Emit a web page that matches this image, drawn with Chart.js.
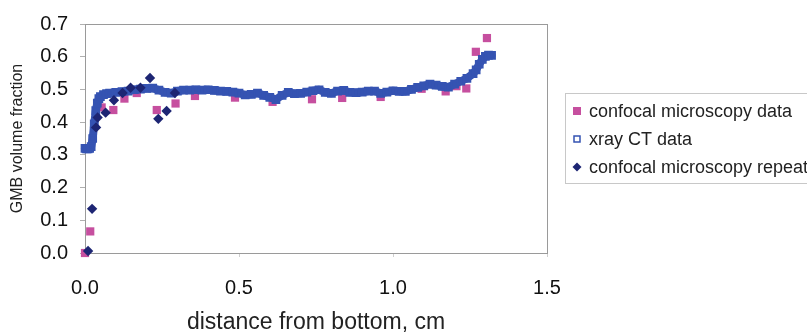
<!DOCTYPE html>
<html>
<head>
<meta charset="utf-8">
<script src="https://cdn.jsdelivr.net/npm/chart.js@4.4.0/dist/chart.umd.min.js"></script>
<style>
  body { margin: 0; background: #fff; }
  #wrap { width: 807px; height: 336px; position: relative; }
</style>
</head>
<body>
<div id="wrap"><canvas id="myChart"></canvas></div>
<script>
// values
const confX = [0, 0.017, 0.054, 0.092, 0.128, 0.168, 0.233, 0.294, 0.357, 0.487, 0.609, 0.737, 0.835, 0.96, 1.093, 1.171, 1.206, 1.238, 1.269, 1.305]
const confY = [0.0, 0.066, 0.445, 0.437, 0.472, 0.489, 0.437, 0.457, 0.48, 0.475, 0.462, 0.47, 0.474, 0.477, 0.502, 0.494, 0.51, 0.503, 0.615, 0.657]

const xrayX = [0, 0.005, 0.01, 0.015, 0.02, 0.025, 0.03, 0.035, 0.04, 0.045, 0.05, 0.06, 0.07, 0.08, 0.1, 0.12, 0.14, 0.16, 0.18, 0.2,
  0.22, 0.24, 0.26, 0.28, 0.3, 0.32, 0.34, 0.36, 0.38, 0.4, 0.42, 0.44, 0.46, 0.48, 0.5, 0.52, 0.54, 0.56, 0.58, 0.6,
  0.62, 0.64, 0.66, 0.68, 0.7, 0.72, 0.74, 0.76, 0.78, 0.8, 0.82, 0.84, 0.86, 0.88, 0.9, 0.92, 0.94, 0.96, 0.98, 1.0,
  1.02, 1.04, 1.06, 1.08, 1.1, 1.12, 1.14, 1.16, 1.18, 1.2, 1.22, 1.24, 1.26, 1.27, 1.28, 1.29, 1.3, 1.31, 1.32]
const xrayY = [0.32, 0.318, 0.318, 0.32, 0.325, 0.35, 0.395, 0.435, 0.458, 0.472, 0.478, 0.484, 0.487, 0.489, 0.491, 0.493, 0.495, 0.499, 0.501, 0.503,
  0.504, 0.498, 0.491, 0.489, 0.495, 0.498, 0.498, 0.499, 0.498, 0.499, 0.497, 0.495, 0.494, 0.492, 0.489, 0.483, 0.485, 0.489, 0.482, 0.476,
  0.469, 0.482, 0.491, 0.487, 0.488, 0.492, 0.496, 0.499, 0.491, 0.488, 0.495, 0.497, 0.491, 0.49, 0.492, 0.495, 0.495, 0.488, 0.492, 0.496,
  0.494, 0.494, 0.5, 0.506, 0.511, 0.516, 0.513, 0.509, 0.507, 0.516, 0.525, 0.534, 0.548, 0.56, 0.577, 0.592, 0.601, 0.605, 0.604]

const repX = [0.01, 0.023, 0.036, 0.041, 0.067, 0.094, 0.122, 0.148, 0.18, 0.211, 0.238, 0.265, 0.292]
const repY = [0.006, 0.135, 0.384, 0.414, 0.429, 0.467, 0.489, 0.505, 0.505, 0.535, 0.41, 0.434, 0.489]

const xTicks = [0, 0.5, 1.0, 1.5]
const yTicks = [0, 0.1, 0.2, 0.3, 0.4, 0.5, 0.6, 0.7]

const seriesNames = ['confocal microscopy data', 'xray CT data', 'confocal microscopy repeat']

const pink = '#c64f9f'
const blue = '#3553b2'
const navy = '#1d2573'
const fontFam = '"Liberation Sans", Arial, sans-serif'

const toPts = (xs, ys) => xs.map((x, i) => ({ x: x, y: ys[i] }))

// frame round the plot and the boxed legend on the right
const framePlugin = {
  id: 'frame',
  beforeDatasetsDraw(chart) {
    const { ctx, chartArea: a } = chart
    ctx.save()
    ctx.strokeStyle = '#9a9a9a'
    ctx.lineWidth = 1
    ctx.strokeRect(Math.round(a.left) + 0.5, Math.round(a.top) + 0.5, Math.round(a.right - a.left), Math.round(a.bottom - a.top))
    ctx.restore()
  },
  afterDraw(chart) {
    const ctx = chart.ctx
    ctx.save()
    ctx.strokeStyle = '#c8c8c8'
    ctx.lineWidth = 1
    ctx.strokeRect(565.5, 93.5, 300, 90)
    const rows = [111, 139, 167]
    ctx.font = '18px ' + fontFam
    ctx.textBaseline = 'middle'
    seriesNames.forEach((name, i) => {
      const y = rows[i]
      if (i === 0) {
        ctx.fillStyle = pink
        ctx.fillRect(573, y - 4, 8, 8)
      } else if (i === 1) {
        ctx.strokeStyle = blue
        ctx.lineWidth = 1.5
        ctx.strokeRect(574, y - 3, 6, 6)
      } else {
        ctx.fillStyle = navy
        ctx.beginPath()
        ctx.moveTo(577, y - 4.5)
        ctx.lineTo(581.5, y)
        ctx.lineTo(577, y + 4.5)
        ctx.lineTo(572.5, y)
        ctx.closePath()
        ctx.fill()
      }
      ctx.fillStyle = '#222'
      ctx.fillText(name, 589, y + 1)
    })
    ctx.restore()
  }
}

const grafica = document.getElementById('myChart').getContext('2d')

const myChart = new Chart(grafica, {
  type: 'scatter',
  data: {
    datasets: [{
      label: seriesNames[0],
      data: toPts(confX, confY),
      pointStyle: 'rect',
      pointRadius: 5.8,
      pointBackgroundColor: pink,
      pointBorderColor: pink,
      pointBorderWidth: 0,
      order: 3,
      clip: false
    }, {
      label: seriesNames[1],
      data: toPts(xrayX, xrayY),
      showLine: true,
      borderColor: blue,
      borderWidth: 8,
      borderJoinStyle: 'round',
      borderCapStyle: 'round',
      pointStyle: 'rect',
      pointRadius: 4.4,
      pointBackgroundColor: 'rgba(0,0,0,0)',
      pointBorderColor: blue,
      pointBorderWidth: 2.5,
      order: 2,
      clip: false
    }, {
      label: seriesNames[2],
      data: toPts(repX, repY),
      pointStyle: 'rectRot',
      pointRadius: 5.2,
      pointBackgroundColor: navy,
      pointBorderColor: navy,
      pointBorderWidth: 0,
      order: 1,
      clip: false
    }]
  },
  options: {
    responsive: true,
    maintainAspectRatio: false,
    animation: false,
    layout: { padding: { top: 21, right: 260, bottom: 0, left: 0 } },
    plugins: {
      legend: { display: false },
      tooltip: { enabled: false }
    },
    scales: {
      x: {
        type: 'linear',
        min: 0,
        max: 1.5,
        afterBuildTicks: (s) => { s.ticks = xTicks.map(v => ({ value: v })) },
        afterFit: (s) => { s.height = 83 },
        grid: { display: true, drawOnChartArea: false, drawTicks: true, tickLength: 4, color: '#cfcfcf' },
        border: { display: false },
        ticks: {
          padding: 19,
          color: '#111',
          font: { family: fontFam, size: 20 },
          callback: (v) => Number(v).toFixed(1)
        },
        title: {
          display: true,
          text: 'distance from bottom, cm',
          color: '#222',
          font: { family: fontFam, size: 23 },
          padding: { top: 0, bottom: 0 }
        }
      },
      y: {
        type: 'linear',
        min: 0,
        max: 0.7,
        afterBuildTicks: (s) => { s.ticks = yTicks.map(v => ({ value: v })) },
        afterFit: (s) => { s.width = 85 },
        grid: { display: true, drawOnChartArea: false, drawTicks: true, tickLength: 5, color: '#b0b0b0' },
        border: { display: false },
        ticks: {
          padding: 12,
          color: '#111',
          font: { family: fontFam, size: 20 },
          callback: (v) => Number(v).toFixed(1)
        },
        title: {
          display: true,
          text: 'GMB volume fraction',
          color: '#222',
          font: { family: fontFam, size: 16 },
          padding: { top: 8, bottom: 0 }
        }
      }
    }
  },
  plugins: [framePlugin]
})
</script>
</body>
</html>
